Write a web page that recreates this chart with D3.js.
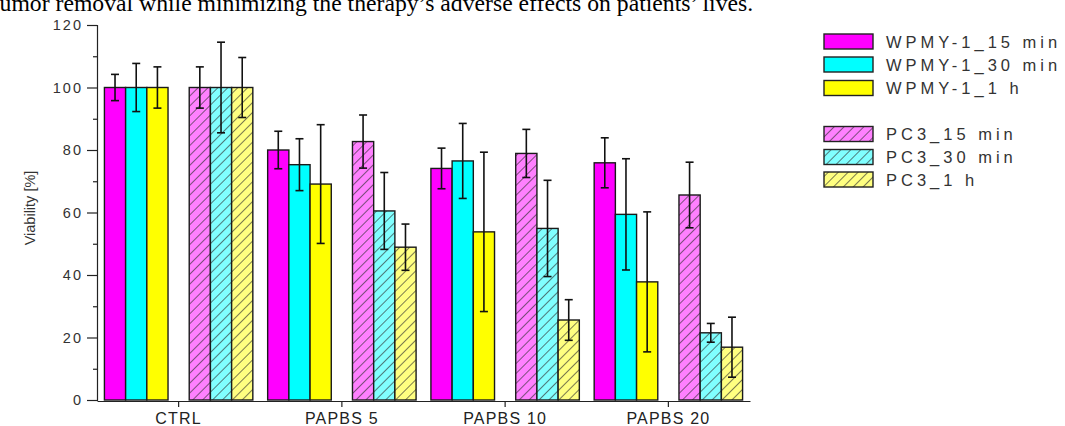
<!DOCTYPE html>
<html>
<head>
<meta charset="utf-8">
<script src="https://cdn.jsdelivr.net/npm/d3@7"></script>
<style>
  html, body { margin: 0; padding: 0; background: #fff; }
  svg { display: block; }
  text { font-family: "Liberation Sans", Arial, sans-serif; }
</style>
</head>
<body>
<svg id="chart" width="1065" height="426"></svg>
<script>
// Cell viability after treatment (mean ± SD)
const categories = ["CTRL", "PAPBS 5", "PAPBS 10", "PAPBS 20"];

const wpmy15 = [100, 80.0, 74.1, 75.9];
const wpmy15Err = [4.2, 6.0, 6.5, 8.0];
const wpmy30 = [100, 75.3, 76.5, 59.4];
const wpmy30Err = [7.7, 8.3, 12.0, 17.8];
const wpmy1h = [100, 69.1, 53.8, 37.8];
const wpmy1hErr = [6.6, 19.0, 25.5, 22.4];

const pc315 = [100, 82.7, 78.9, 65.6];
const pc315Err = [6.6, 8.5, 7.7, 10.5];
const pc330 = [100, 60.5, 54.9, 21.5];
const pc330Err = [14.5, 12.3, 15.4, 3.0];
const pc31h = [100, 48.9, 25.6, 16.9];
const pc31hErr = [9.6, 7.4, 6.5, 9.6];

const yTicks = [0, 20, 40, 60, 80, 100, 120];
const yMinorTicks = [10, 30, 50, 70, 90, 110];

const series = [
  { name: "WPMY-1_15 min", values: wpmy15, err: wpmy15Err, color: "#ff00ff", hatch: false },
  { name: "WPMY-1_30 min", values: wpmy30, err: wpmy30Err, color: "#00ffff", hatch: false },
  { name: "WPMY-1_1 h",    values: wpmy1h, err: wpmy1hErr, color: "#ffff00", hatch: false },
  { name: "PC3_15 min",    values: pc315,  err: pc315Err,  color: "#ff80ff", hatch: true },
  { name: "PC3_30 min",    values: pc330,  err: pc330Err,  color: "#80ffff", hatch: true },
  { name: "PC3_1 h",       values: pc31h,  err: pc31hErr,  color: "#ffff80", hatch: true }
];

// slot order inside each group: three solid bars, an empty slot, three hatched bars
const slots = ["WPMY-1_15 min", "WPMY-1_30 min", "WPMY-1_1 h", "gap", "PC3_15 min", "PC3_30 min", "PC3_1 h"];

const svg = d3.select("#chart");

const x0 = d3.scaleBand().domain(categories).range([97, 750]).padding(0);
const x1 = d3.scaleBand().domain(slots).range([0, x0.bandwidth()]).paddingInner(0).paddingOuter(0.35);
const y = d3.scaleLinear().domain([0, 120]).range([400, 25]);

// hatch patterns for the PC3 series
const defs = svg.append("defs");
series.filter(s => s.hatch).forEach((s, i) => {
  const p = defs.append("pattern")
    .attr("id", "hatch" + i)
    .attr("patternUnits", "userSpaceOnUse")
    .attr("width", 7).attr("height", 7)
    .attr("patternTransform", "rotate(45)");
  p.append("rect").attr("width", 7).attr("height", 7).attr("fill", s.color);
  p.append("line").attr("x1", 0).attr("y1", 0).attr("x2", 0).attr("y2", 7)
    .attr("stroke", "#333").attr("stroke-width", 1.3);
  s.fill = "url(#hatch" + i + ")";
});
series.filter(s => !s.hatch).forEach(s => { s.fill = s.color; });

// top text line of the page
svg.append("text")
  .attr("x", -7).attr("y", 11)
  .attr("font-size", 23.7)
  .attr("fill", "#000")
  .style("font-family", "'Liberation Serif', 'Times New Roman', serif")
  .text("tumor removal while minimizing the therapy’s adverse effects on patients’ lives.");

// bars
const groups = svg.append("g").selectAll("g")
  .data(categories)
  .join("g")
  .attr("transform", c => `translate(${x0(c)},0)`);

series.forEach(s => {
  groups.append("rect")
    .attr("x", x1(s.name))
    .attr("y", (c, i) => y(s.values[i]))
    .attr("width", x1.bandwidth())
    .attr("height", (c, i) => y(0) - y(s.values[i]))
    .attr("fill", s.fill)
    .attr("stroke", "#1a1a1a")
    .attr("stroke-width", 1.4);
});

// error bars
series.forEach(s => {
  const cx = x1(s.name) + x1.bandwidth() / 2;
  const eb = groups.append("g").attr("stroke", "#111").attr("stroke-width", 1.6).attr("fill", "none");
  eb.append("line")
    .attr("x1", cx).attr("x2", cx)
    .attr("y1", (c, i) => y(s.values[i] + s.err[i]))
    .attr("y2", (c, i) => y(s.values[i] - s.err[i]));
  eb.append("line")
    .attr("x1", cx - 4).attr("x2", cx + 4)
    .attr("y1", (c, i) => y(s.values[i] + s.err[i]))
    .attr("y2", (c, i) => y(s.values[i] + s.err[i]));
  eb.append("line")
    .attr("x1", cx - 4).attr("x2", cx + 4)
    .attr("y1", (c, i) => y(s.values[i] - s.err[i]))
    .attr("y2", (c, i) => y(s.values[i] - s.err[i]));
});

// y axis
const yAxis = svg.append("g")
  .attr("transform", "translate(97,0)")
  .call(d3.axisLeft(y).tickValues(yTicks).tickSize(10).tickPadding(4).tickFormat(d3.format("d")));
yAxis.select(".domain").attr("stroke", "#222").attr("stroke-width", 1.2);
yAxis.selectAll(".tick line").attr("stroke", "#222").attr("stroke-width", 1.2);
yAxis.selectAll(".tick text")
  .attr("font-size", 14.5).attr("fill", "#333")
  .style("letter-spacing", "2px");
svg.append("g")
  .attr("transform", "translate(97,0)")
  .call(d3.axisLeft(y).tickValues(yMinorTicks).tickSize(4).tickFormat(""))
  .call(g => g.select(".domain").remove())
  .selectAll(".tick line").attr("stroke", "#222").attr("stroke-width", 1.2);

// x axis
const xAxis = svg.append("g")
  .attr("transform", "translate(0,401)")
  .call(d3.axisBottom(x0).tickSize(6).tickPadding(6).tickSizeOuter(0));
xAxis.select(".domain").attr("stroke", "#222").attr("stroke-width", 1.2);
xAxis.selectAll(".tick line").attr("stroke", "#222").attr("stroke-width", 1.2);
xAxis.selectAll(".tick text")
  .attr("font-size", 16).attr("fill", "#222")
  .style("letter-spacing", "1.2px");

// y axis title
svg.append("text")
  .attr("transform", "translate(35,208) rotate(-90)")
  .attr("text-anchor", "middle")
  .attr("font-size", 14.5)
  .attr("fill", "#333")
  .text("Viability [%]");

// legend
const legendRows = [34, 57, 80.5, 126.5, 149.5, 172];
const legend = svg.append("g");
series.forEach((s, i) => {
  const ly = legendRows[i];
  legend.append("rect")
    .attr("x", 824).attr("y", ly)
    .attr("width", 49).attr("height", 15)
    .attr("fill", s.fill)
    .attr("stroke", "#222").attr("stroke-width", 1.4);
  legend.append("text")
    .attr("x", 886).attr("y", ly + 13.5)
    .attr("font-size", 16.5)
    .attr("fill", "#333")
    .style("letter-spacing", "4px")
    .text(s.name);
});
</script>
</body>
</html>
